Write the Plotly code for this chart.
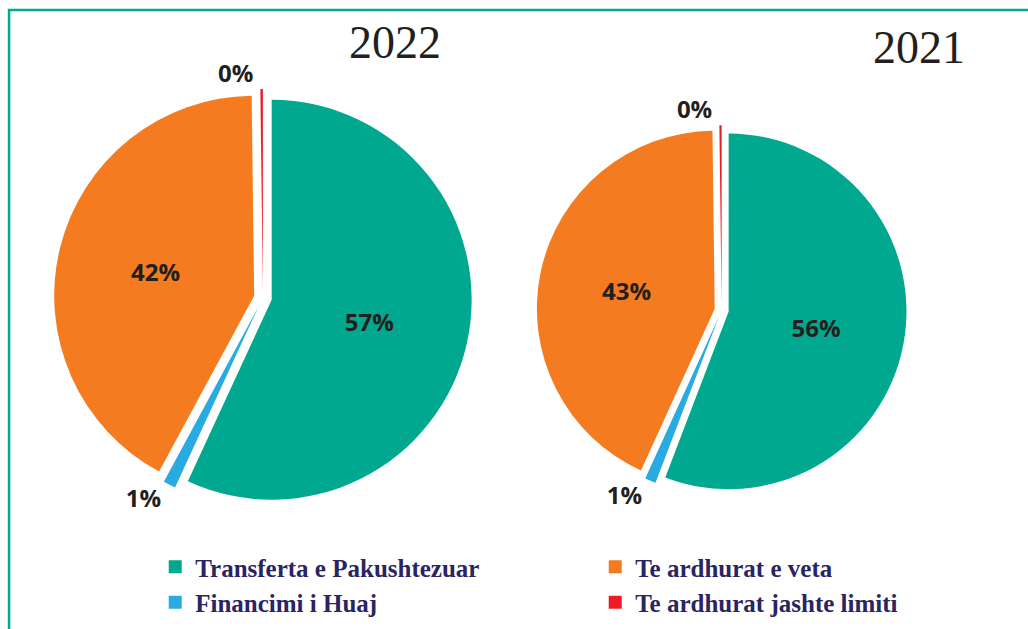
import plotly.graph_objects as go

labels = ["Transferta e Pakushtezuar", "Financimi i Huaj", "Te ardhurat e veta", "Te ardhurat jashte limiti"]
legend_order = ["Transferta e Pakushtezuar", "Te ardhurat e veta", "Financimi i Huaj", "Te ardhurat jashte limiti"]
colors = {"Transferta e Pakushtezuar": "#00a88f", "Financimi i Huaj": "#29abe2",
          "Te ardhurat e veta": "#f47b20", "Te ardhurat jashte limiti": "#ed1c24"}
values_2022 = [57.0, 1.0, 42.0, 0.2]
values_2021 = [55.8, 1.0, 43.0, 0.2]
years = ["2022", "2021"]

slice_colors = [colors[l] for l in labels]
text_pos = ["inside", "outside", "inside", "outside"]
pie_font = dict(family="Open Sans", size=24, color="#231f20", weight=700)

fig = go.Figure()
fig.add_trace(go.Pie(
    labels=labels, values=values_2022, sort=False, direction="clockwise", rotation=0,
    marker=dict(colors=slice_colors, line=dict(width=0)),
    pull=[0.045] * 4, textinfo="percent", texttemplate="%{percent:.0%}",
    textposition=text_pos, insidetextorientation="horizontal",
    textfont=pie_font, showlegend=False, hoverinfo="label+percent",
    domain=dict(x=[0.0525, 0.459], y=[0.194, 0.859]),
))
fig.add_trace(go.Pie(
    labels=labels, values=values_2021, sort=False, direction="clockwise", rotation=0,
    marker=dict(colors=slice_colors, line=dict(width=0)),
    pull=[0.04] * 4, textinfo="percent", texttemplate="%{percent:.0%}",
    textposition=text_pos, insidetextorientation="horizontal",
    textfont=pie_font, showlegend=False, hoverinfo="label+percent",
    domain=dict(x=[0.522, 0.882], y=[0.213, 0.801]),
))

for lab in legend_order:
    fig.add_trace(go.Scatter(
        x=[None], y=[None], mode="markers", name=lab,
        marker=dict(symbol="square", size=13, color=colors[lab]),
        showlegend=True, hoverinfo="skip",
    ))

fig.add_annotation(text=years[0], x=0.384, y=0.933, xref="paper", yref="paper",
                   xanchor="center", yanchor="middle",
                   showarrow=False, font=dict(family="Liberation Serif", size=46, color="#231f20"))
fig.add_annotation(text=years[1], x=0.894, y=0.924, xref="paper", yref="paper",
                   xanchor="center", yanchor="middle",
                   showarrow=False, font=dict(family="Liberation Serif", size=46, color="#231f20"))

fig.add_shape(type="rect", xref="paper", yref="paper", x0=0.0088, x1=1.02, y0=-0.02, y1=0.984,
              line=dict(color="#00a88f", width=2.5), fillcolor="rgba(0,0,0,0)")

fig.update_layout(
    width=1028, height=629, margin=dict(l=0, r=0, t=0, b=0, autoexpand=False),
    paper_bgcolor="white", plot_bgcolor="white",
    xaxis=dict(visible=False), yaxis=dict(visible=False),
    legend=dict(orientation="h", x=0.151, y=0.135, xanchor="left", yanchor="top",
                entrywidth=395, entrywidthmode="pixels",
                font=dict(family="Liberation Serif", size=25, color="#2a2462", weight=700),
                bgcolor="rgba(0,0,0,0)", tracegroupgap=0),
)

fig.write_html("out.html", config={"displayModeBar": False},
               post_script="document.body.style.margin='0';")
